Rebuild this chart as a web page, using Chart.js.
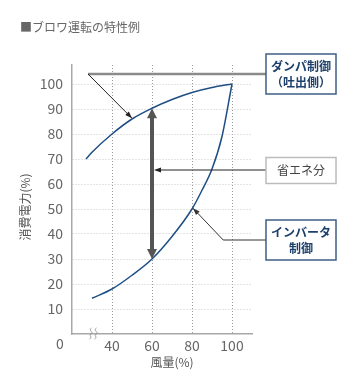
<!DOCTYPE html>
<html><head><meta charset="utf-8">
<script src="https://cdn.jsdelivr.net/npm/chart.js@4/dist/chart.umd.min.js"></script>
<style>html,body{margin:0;padding:0;background:#fff}#wrap{width:360px;height:390px;position:relative}</style>
</head><body><div id="wrap"><canvas id="c" width="360" height="390"></canvas></div>
<script>
// data
const damperFlow  = [27, 30, 40, 50, 60, 70, 80, 90, 100];
const damperPower = [70, 72.7, 80, 86, 90.3, 93.8, 96.6, 98.6, 100];
const inverterFlow  = [30, 40, 50, 60, 70, 80, 85, 90, 95, 100];
const inverterPower = [14.3, 18, 23.5, 30, 39, 50, 57.5, 66, 79, 100];
const xTickValues = [40, 60, 80, 100];
const titleText = '■ブロワ運転の特性例';
const yTitle = '消費電力(%)';
const xTitle = '風量(%)';
const labelDamper = ['ダンパ制御', '（吐出側）'];
const labelSaving = ['省エネ分'];
const labelInverter = ['インバータ', '制御'];

const JP = '"Noto Sans CJK JP", "Noto Sans", sans-serif';
const toPts = (xs, ys) => xs.map((x, i) => ({x, y: ys[i]}));

function arrowHead(ctx, x1, y1, x2, y2, len, w, color) {
  const a = Math.atan2(y2 - y1, x2 - x1);
  ctx.save();
  ctx.fillStyle = color;
  ctx.beginPath();
  ctx.moveTo(x2, y2);
  ctx.lineTo(x2 - len * Math.cos(a) + w / 2 * Math.sin(a), y2 - len * Math.sin(a) - w / 2 * Math.cos(a));
  ctx.lineTo(x2 - len * Math.cos(a) - w / 2 * Math.sin(a), y2 - len * Math.sin(a) + w / 2 * Math.cos(a));
  ctx.closePath();
  ctx.fill();
  ctx.restore();
}
function box(ctx, x, y, w, h, lines, border, color, bold) {
  ctx.save();
  ctx.fillStyle = '#fff';
  ctx.fillRect(x, y, w, h);
  ctx.strokeStyle = border; ctx.lineWidth = 1.5;
  ctx.strokeRect(x, y, w, h);
  ctx.fillStyle = color;
  ctx.font = (bold ? 'bold ' : '') + '12px ' + JP;
  ctx.textAlign = 'center'; ctx.textBaseline = 'middle';
  const lh = 16, cy = y + h / 2 - (lines.length - 1) * lh / 2;
  lines.forEach((t, i) => ctx.fillText(t, x + w / 2, cy + i * lh));
  ctx.restore();
}

const deco = {
  id: 'deco',
  afterDatasetsDraw(chart) {
    const ctx = chart.ctx, xs = chart.scales.x, ys = chart.scales.y;
    const X = v => xs.getPixelForValue(v), Y = v => ys.getPixelForValue(v);
    ctx.save();
    // title
    ctx.fillStyle = '#666'; ctx.font = '12px ' + JP;
    ctx.textBaseline = 'middle'; ctx.textAlign = 'left';
    ctx.fillText(titleText, 20, 27);
    // axis titles
    ctx.fillStyle = '#555';
    ctx.textAlign = 'center';
    ctx.fillText(xTitle, 172, 362);
    ctx.save(); ctx.translate(25, 207); ctx.rotate(-Math.PI / 2);
    ctx.fillText(yTitle, 0, 0); ctx.restore();
    // origin label
    ctx.fillStyle = '#666'; ctx.font = '14px ' + JP;
    ctx.fillText('0', 60, 344);
    // axis break squiggles
    ctx.strokeStyle = '#999'; ctx.lineWidth = 1;
    [90.5, 95.5].forEach(x0 => {
      ctx.beginPath();
      ctx.moveTo(x0 + 1, 328);
      ctx.bezierCurveTo(x0 - 3, 330, x0 + 4, 333, x0 + 1, 334);
      ctx.bezierCurveTo(x0 - 3, 335, x0 + 3, 337, x0 - 1, 339);
      ctx.stroke();
    });
    // damper leader lines
    const topY = Y(104), startX = X(28);
    ctx.strokeStyle = '#8a8a8a'; ctx.lineWidth = 2.5;
    ctx.beginPath(); ctx.moveTo(startX, topY); ctx.lineTo(266, topY); ctx.stroke();
    const tipX = X(50), tipY = Y(86.3);
    ctx.strokeStyle = '#222'; ctx.lineWidth = 1;
    ctx.beginPath(); ctx.moveTo(startX, topY); ctx.lineTo(tipX, tipY); ctx.stroke();
    arrowHead(ctx, startX, topY, tipX, tipY, 7, 5, '#222');
    // saving double arrow
    const ax = X(60), aTop = Y(90.3), aBot = Y(30);
    ctx.strokeStyle = '#555'; ctx.lineWidth = 4;
    ctx.beginPath(); ctx.moveTo(ax, aTop + 8); ctx.lineTo(ax, aBot - 8); ctx.stroke();
    arrowHead(ctx, ax, aBot, ax, aTop, 10, 10, '#555');
    arrowHead(ctx, ax, aTop, ax, aBot, 10, 10, '#555');
    // saving pointer
    const sy = Y(65.6);
    ctx.strokeStyle = '#222'; ctx.lineWidth = 1;
    ctx.beginPath(); ctx.moveTo(266, sy); ctx.lineTo(ax + 4, sy); ctx.stroke();
    arrowHead(ctx, 266, sy, ax + 2, sy, 7, 5, '#222');
    // inverter pointer
    const ey = Y(37.6), ex = X(95.6), itx = X(80.5), ity = Y(50.3);
    ctx.strokeStyle = '#333';
    ctx.beginPath(); ctx.moveTo(266, ey); ctx.lineTo(ex, ey); ctx.lineTo(itx, ity); ctx.stroke();
    arrowHead(ctx, ex, ey, itx, ity, 7, 5, '#333');
    // boxes
    box(ctx, 266, 54, 70, 40, labelDamper, '#3d5f86', '#1d3f6c', true);
    box(ctx, 266, 157.5, 70, 26, labelSaving, '#bcbcbc', '#444', false);
    box(ctx, 266, 220, 70, 40, labelInverter, '#3d5f86', '#1d3f6c', true);
    ctx.restore();
  }
};

new Chart(document.getElementById('c'), {
  type: 'scatter',
  data: {
    datasets: [
      { data: toPts(damperFlow, damperPower), showLine: true, borderColor: '#1f4e85', borderWidth: 1.5, pointRadius: 0, cubicInterpolationMode: 'monotone' },
      { data: toPts(inverterFlow, inverterPower), showLine: true, borderColor: '#1f4e85', borderWidth: 1.5, pointRadius: 0, cubicInterpolationMode: 'monotone' }
    ]
  },
  options: {
    responsive: false, animation: false,
    layout: { padding: { left: 0, top: 65, right: 108, bottom: 0 } },
    plugins: { legend: { display: false }, tooltip: { enabled: false } },
    scales: {
      x: {
        type: 'linear', min: 20, max: 110,
        afterBuildTicks: s => { s.ticks = xTickValues.map(v => ({ value: v })); },
        afterFit: s => { s.height = 56; },
        grid: { color: '#9a9a9a', lineWidth: 1, drawTicks: false },
        border: { color: '#a8a8a8', width: 1.5, dash: [1, 2] },
        ticks: { color: '#666', font: { family: JP, size: 14 }, padding: 3, maxRotation: 0 }
      },
      y: {
        min: 0, max: 107.6,
        afterFit: s => { s.width = 72; },
        grid: { color: c => (c.tick && c.tick.value === 0) ? 'rgba(0,0,0,0)' : '#c8c8c8', lineWidth: 1, drawTicks: false },
        border: { color: '#a8a8a8', width: 1.5, dash: [1, 2] },
        ticks: { stepSize: 10, includeBounds: false, color: '#666', font: { family: JP, size: 14 }, padding: 9,
                 callback: v => v === 0 ? '' : v }
      }
    }
  },
  plugins: [deco]
});
</script></body></html>
